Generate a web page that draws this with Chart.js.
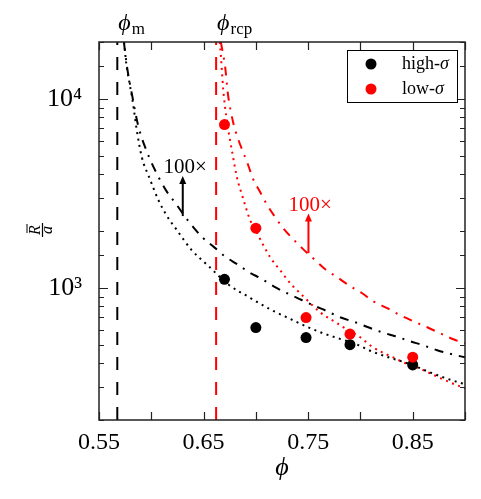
<!DOCTYPE html>
<html>
<head>
<meta charset="utf-8">
<script src="https://cdn.jsdelivr.net/npm/chart.js@4.4.0/dist/chart.umd.min.js"></script>
<style>
  html, body { margin: 0; padding: 0; background: #fff; }
  #wrap { width: 481px; height: 499px; }
</style>
</head>
<body>
<div id="wrap"><canvas id="myChart"></canvas></div>
<script>
var serif = "'Liberation Serif', 'DejaVu Serif', serif";

// measured points
var phiHigh = [0.670, 0.700, 0.748, 0.790, 0.850];
var rHigh   = [1110, 617, 546, 501, 391];
var phiLow  = [0.670, 0.700, 0.748, 0.790, 0.850];
var rLow    = [7310, 2070, 697, 570, 430];
var seriesLabels = ["high-σ", "low-σ"];

// critical volume fractions
var phiM = 0.5675;
var phiRcp = 0.662;
var rRange = [200, 20000];

// fit curves
var phiDotHigh = [0.5740, 0.5760, 0.5790, 0.5820, 0.5860, 0.5910, 0.5980, 0.6070, 0.6150, 0.6240,
                  0.6380, 0.6550, 0.6740, 0.6935, 0.7136, 0.7356, 0.7500, 0.7644, 0.7787, 0.7950,
                  0.8093, 0.8237, 0.8361, 0.8505, 0.8639, 0.8782, 0.8926, 0.9000];
var rDotHigh   = [20000, 15500, 12300, 9900, 6900, 4900, 3850, 2900, 2400, 2040,
                  1600, 1300, 1040, 893, 771, 674, 619, 575, 541, 507,
                  465, 435, 414, 389, 362, 338, 318, 309];

var phiDashHigh = [0.5738, 0.5768, 0.5816, 0.5873, 0.5959, 0.6074, 0.6141, 0.6237, 0.6333, 0.6409,
                   0.6486, 0.6600, 0.6715, 0.6821, 0.6935, 0.7060, 0.7184, 0.7299, 0.7443, 0.7548,
                   0.7682, 0.7806, 0.7950, 0.8074, 0.8208, 0.8333, 0.8476, 0.8600, 0.8734, 0.8878, 0.9002];
var rDashHigh   = [20000, 14780, 10500, 7281, 5237, 3813, 3280, 2780, 2340, 2072,
                   1857, 1643, 1454, 1335, 1211, 1112, 1009, 937, 860, 809,
                   752, 699, 658, 619, 582, 555, 522, 497, 468, 445, 429];

var phiDotLow = [0.6655, 0.6667, 0.6677, 0.6687, 0.6706, 0.6725, 0.6754, 0.6773, 0.6821, 0.6868,
                 0.6897, 0.6945, 0.6993, 0.7022, 0.7136, 0.7232, 0.7328, 0.7443, 0.7615, 0.7778,
                 0.7883, 0.7998, 0.8093, 0.8208, 0.8313, 0.8409, 0.8543, 0.8667, 0.8792, 0.8926, 0.9002];
var rDotLow   = [20000, 16500, 13600, 11300, 9000, 7500, 6000, 5250, 3800, 3099,
                 2744, 2285, 2047, 1902, 1454, 1241, 1059, 915, 743, 650,
                 597, 548, 497, 456, 429, 404, 380, 353, 328, 305, 294];

var phiDashLow = [0.6665, 0.6706, 0.6734, 0.6782, 0.6830, 0.6878, 0.6926, 0.6974, 0.7041, 0.7108,
                  0.7184, 0.7261, 0.7356, 0.7452, 0.7567, 0.7663, 0.7778, 0.7902, 0.8017, 0.8122,
                  0.8256, 0.8380, 0.8505, 0.8639, 0.8763, 0.8888, 0.9002];
var rDashLow   = [20000, 14800, 10500, 7553, 6138, 5237, 4469, 3767, 3215, 2744,
                  2370, 2072, 1813, 1604, 1402, 1256, 1139, 1021, 937, 850,
                  781, 717, 666, 619, 575, 535, 509];

var xTickLabels = ["0.55", "0.65", "0.75", "0.85"];

function pts(xs, ys) {
  return xs.map(function (v, i) { return { x: v, y: ys[i] }; });
}

function curve(xs, ys, color, dash) {
  return {
    data: pts(xs, ys), showLine: true, pointRadius: 0, borderColor: color,
    borderWidth: 2, borderDash: dash, cubicInterpolationMode: "monotone", order: 2
  };
}

function vline(v, color) {
  return {
    data: [{ x: v, y: rRange[0] }, { x: v, y: rRange[1] }], showLine: true, pointRadius: 0,
    borderColor: color, borderWidth: 2, borderDash: [13, 12], order: 3
  };
}

var sup = { 2: "²", 3: "³", 4: "⁴" };

// arrows with "100x" notes, in data units
var notes = [
  { text: "100×", color: "#000", x: 0.6323, y: 4053, ax: 0.6301, ay0: 2399, ay1: 3908 },
  { text: "100×", color: "#ff0000", x: 0.7519, y: 2550, ax: 0.7503, ay0: 1528, ay1: 2477 }
];

var decor = {
  id: "decor",
  afterDraw: function (chart) {
    var ctx = chart.ctx, a = chart.chartArea, xs = chart.scales.x, ys = chart.scales.y;
    ctx.save();

    // frame
    ctx.strokeStyle = "#222";
    ctx.lineWidth = 1.5;
    ctx.strokeRect(a.left, a.top, a.right - a.left, a.bottom - a.top);

    // inward ticks
    ctx.lineWidth = 1.2;
    ctx.beginPath();
    xs.ticks.forEach(function (t) {
      var px = Math.round(xs.getPixelForValue(t.value)) + 0.5;
      ctx.moveTo(px, a.bottom); ctx.lineTo(px, a.bottom - 8);
      ctx.moveTo(px, a.top); ctx.lineTo(px, a.top + 8);
    });
    ys.ticks.forEach(function (t) {
      var e = Math.log10(t.value);
      var len = Math.abs(e - Math.round(e)) < 1e-6 ? 9 : 5;
      var py = Math.round(ys.getPixelForValue(t.value)) + 0.5;
      ctx.moveTo(a.left, py); ctx.lineTo(a.left + len, py);
      ctx.moveTo(a.right, py); ctx.lineTo(a.right - len, py);
    });
    ctx.stroke();

    // notes with arrows
    notes.forEach(function (n) {
      ctx.fillStyle = n.color; ctx.strokeStyle = n.color;
      ctx.font = "21px " + serif;
      ctx.textAlign = "center"; ctx.textBaseline = "alphabetic";
      ctx.fillText(n.text, xs.getPixelForValue(n.x), ys.getPixelForValue(n.y));
      var ax = xs.getPixelForValue(n.ax), y0 = ys.getPixelForValue(n.ay0), y1 = ys.getPixelForValue(n.ay1);
      ctx.lineWidth = 2;
      ctx.beginPath(); ctx.moveTo(ax, y0); ctx.lineTo(ax, y1 + 6); ctx.stroke();
      ctx.beginPath(); ctx.moveTo(ax, y1); ctx.lineTo(ax - 3.5, y1 + 8); ctx.lineTo(ax + 3.5, y1 + 8);
      ctx.closePath(); ctx.fill();
    });

    // labels for critical fractions above the frame
    ctx.fillStyle = "#000";
    ctx.textAlign = "left"; ctx.textBaseline = "alphabetic";
    [[phiM, "m"], [phiRcp, "rcp"]].forEach(function (p) {
      var px = xs.getPixelForValue(p[0]) + 1;
      ctx.font = "italic 24px " + serif;
      ctx.fillText("ϕ", px, 30);
      var w = ctx.measureText("ϕ").width;
      ctx.font = "17px " + serif;
      ctx.fillText(p[1], px + w + 1, 34);
    });

    // x title
    ctx.font = "italic 26px " + serif;
    ctx.textAlign = "center";
    ctx.fillText("ϕ", (a.left + a.right) / 2, 475);

    // y title: R-bar over a, rotated
    ctx.save();
    ctx.translate(42.5, (a.top + a.bottom) / 2 - 1);
    ctx.rotate(-Math.PI / 2);
    ctx.font = "italic 16px " + serif;
    ctx.textAlign = "center";
    ctx.fillText("R", 0, -3);
    ctx.fillRect(-3, -16, 9, 1);
    ctx.fillRect(-7, -0.6, 14, 1.2);
    ctx.fillText("a", 0, 9);
    ctx.restore();

    // legend box
    var bx = a.right - 118, by = a.top + 8, bw = 110, bh = 52;
    ctx.fillStyle = "#fff";
    ctx.fillRect(bx, by, bw, bh);
    ctx.strokeStyle = "#000"; ctx.lineWidth = 1;
    ctx.strokeRect(bx + 0.5, by + 0.5, bw, bh);
    ctx.textAlign = "left"; ctx.textBaseline = "middle";
    seriesLabels.forEach(function (lab, i) {
      var ds = chart.data.datasets.find(function (d) { return d.label === lab; });
      var cy = by + 14 + i * 25;
      ctx.fillStyle = ds.backgroundColor;
      ctx.beginPath(); ctx.arc(bx + 24, cy, 5.5, 0, Math.PI * 2); ctx.fill();
      ctx.fillStyle = "#000";
      var head = lab.slice(0, -1), tail = lab.slice(-1);
      ctx.font = "18px " + serif;
      ctx.fillText(head, bx + 55, cy);
      var w = ctx.measureText(head).width;
      ctx.font = "italic 18px " + serif;
      ctx.fillText(tail, bx + 55 + w, cy);
    });
    ctx.restore();
  }
};

new Chart("myChart", {
  type: "scatter",
  data: {
    datasets: [
      { label: seriesLabels[1], data: pts(phiLow, rLow), backgroundColor: "#ff0000", borderWidth: 0, pointRadius: 5.5, order: 0 },
      { label: seriesLabels[0], data: pts(phiHigh, rHigh), backgroundColor: "#000000", borderWidth: 0, pointRadius: 5.5, order: 1 },
      curve(phiDotHigh, rDotHigh, "#000", [2, 4.5]),
      curve(phiDashHigh, rDashHigh, "#000", [9, 7, 2, 7]),
      curve(phiDotLow, rDotLow, "#ff0000", [2, 4.5]),
      curve(phiDashLow, rDashLow, "#ff0000", [9, 7, 2, 7]),
      vline(phiM, "#000"),
      vline(phiRcp, "#ff0000")
    ]
  },
  options: {
    responsive: true,
    maintainAspectRatio: false,
    animation: false,
    events: [],
    layout: { padding: { left: 0, right: 16, top: 42, bottom: 0 } },
    plugins: { legend: { display: false }, tooltip: { enabled: false } },
    scales: {
      x: {
        type: "linear", min: 0.55, max: 0.9,
        grid: { display: false }, border: { display: false },
        afterFit: function (s) { s.height = 79; },
        ticks: {
          stepSize: 0.05, autoSkip: false, maxRotation: 0, padding: 0,
          color: "#000", font: { family: serif, size: 24 },
          callback: function (v) {
            var s = Number(v).toFixed(2);
            return xTickLabels.indexOf(s) >= 0 ? s : "";
          }
        }
      },
      y: {
        type: "logarithmic", min: rRange[0], max: rRange[1],
        grid: { display: false }, border: { display: false },
        afterFit: function (s) { s.width = 99; },
        ticks: {
          autoSkip: false, padding: 9,
          color: "#000", font: { family: serif, size: 26 },
          callback: function (v) {
            var e = Math.log10(v), r = Math.round(e);
            return Math.abs(e - r) < 1e-9 ? "10" + sup[r] : "";
          }
        }
      }
    }
  },
  plugins: [decor]
});
</script>
</body>
</html>
